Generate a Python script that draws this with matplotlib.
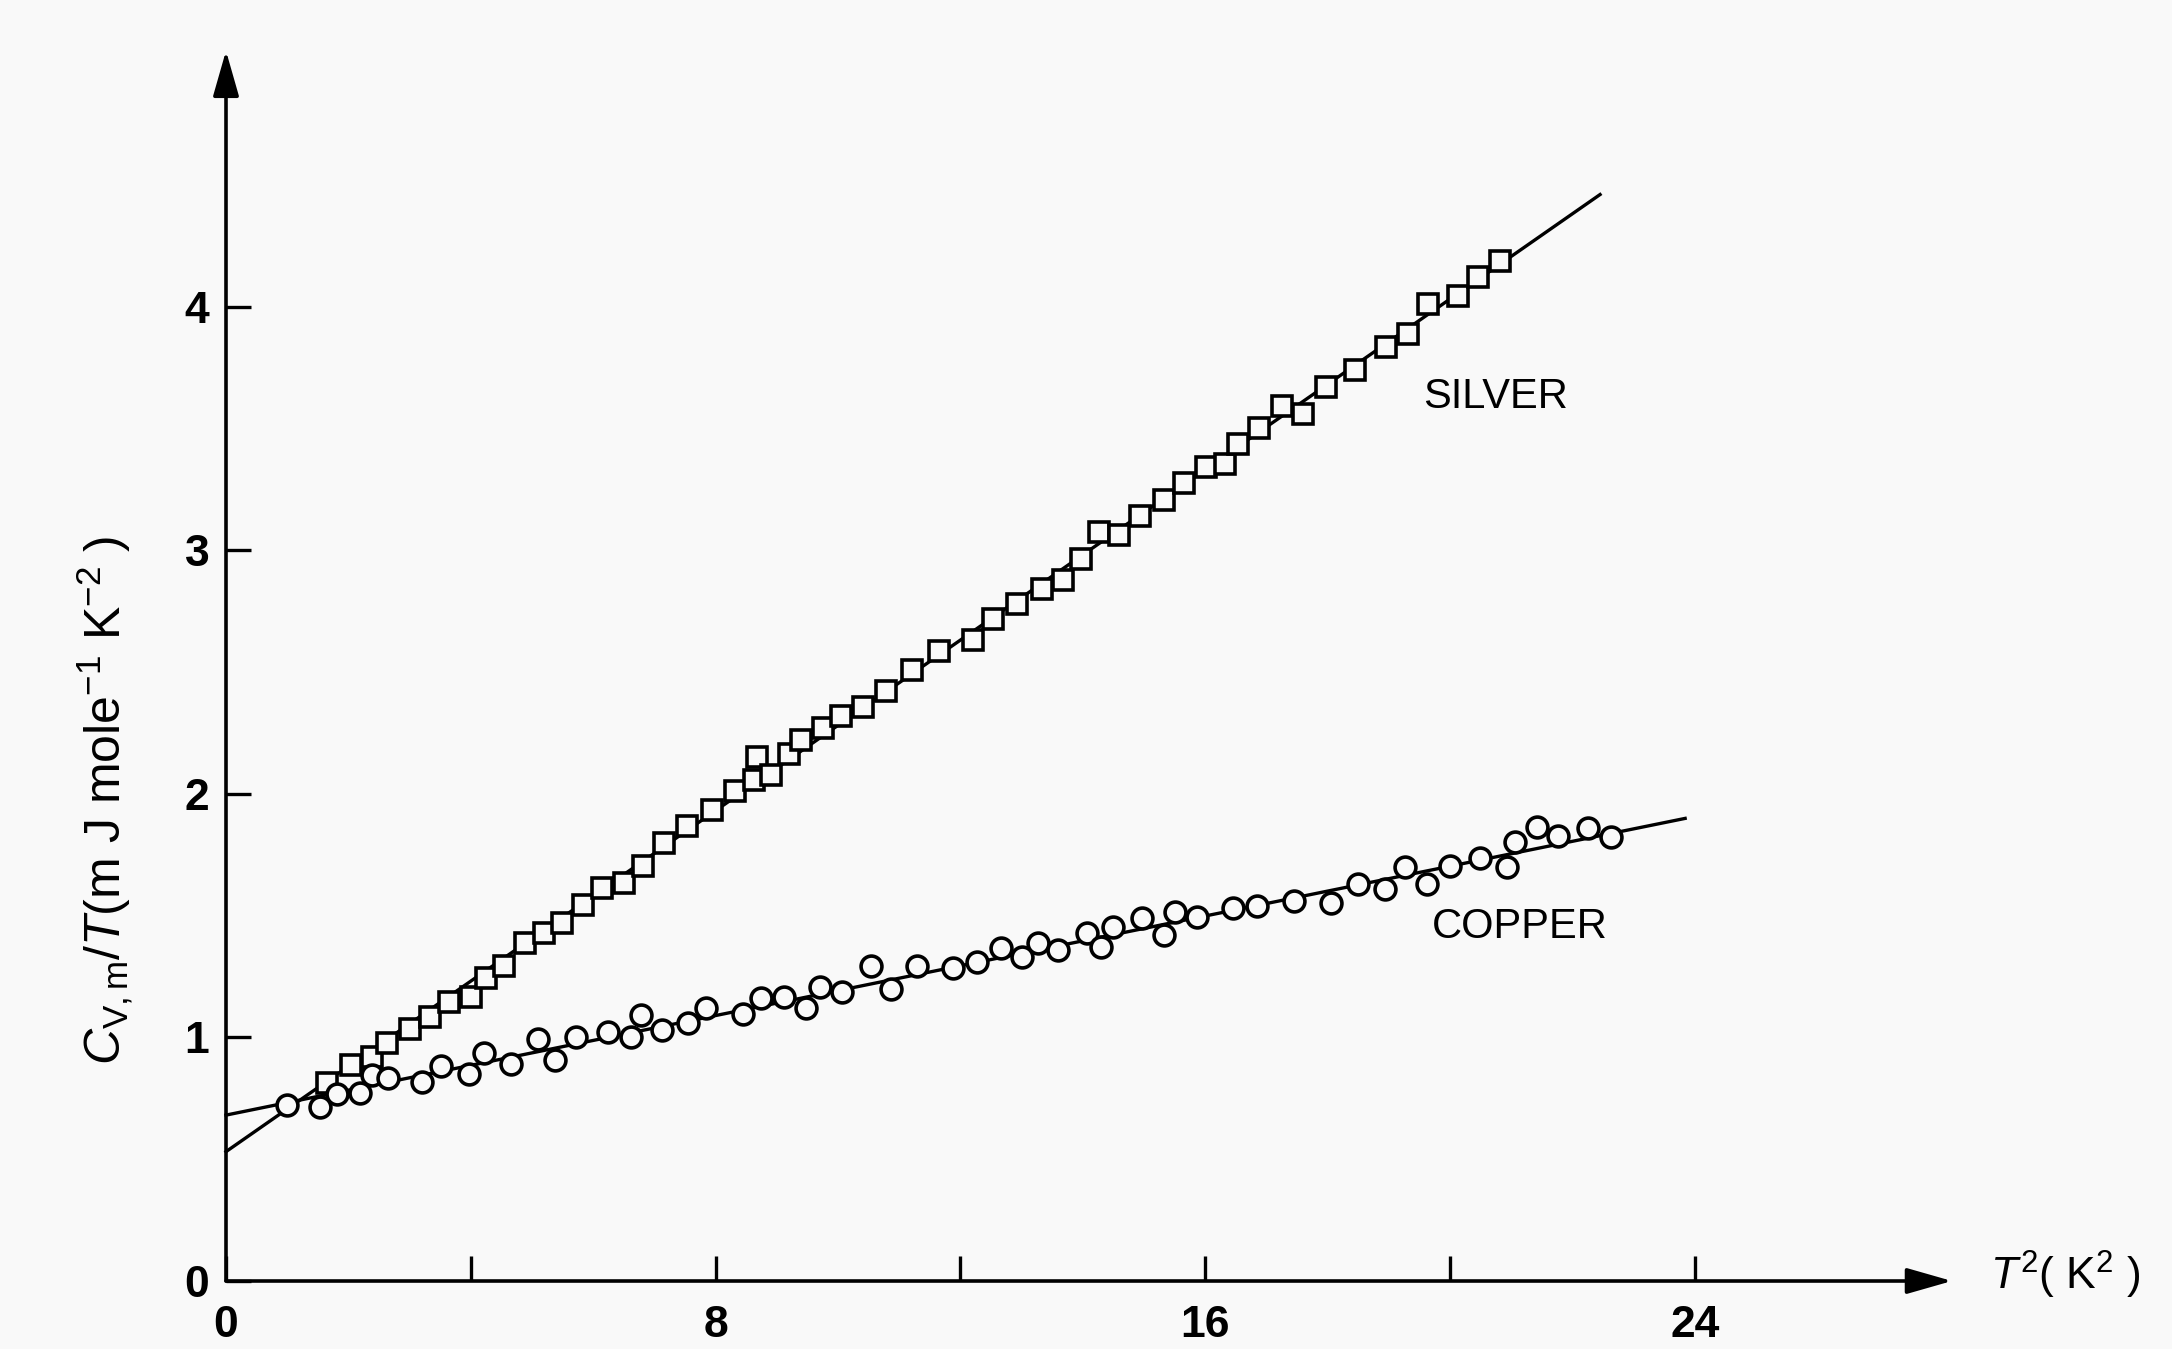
import matplotlib
matplotlib.use('Agg')
import matplotlib.pyplot as plt

# ---------------- data ----------------
silver_T2 = [1.65, 2.05, 2.38, 2.63, 3.00, 3.33, 3.64, 4.00, 4.24, 4.55,
             4.88, 5.19, 5.49, 5.83, 6.15, 6.50, 6.81, 7.16, 7.53, 7.94,
             8.31, 8.62, 8.67, 8.90, 9.20, 9.40, 9.75, 10.04, 10.40, 10.79,
             11.20, 11.65, 12.20, 12.53, 12.92, 13.33, 13.68, 13.97, 14.26, 14.59,
             14.93, 15.32, 15.66, 16.01, 16.32, 16.54, 16.87, 17.25, 17.59, 17.98,
             18.45, 18.96, 19.31, 19.64, 20.13, 20.46, 20.82]
silver_CT = [0.814, 0.885, 0.920, 0.976, 1.033, 1.082, 1.146, 1.167, 1.245, 1.294,
             1.386, 1.429, 1.471, 1.542, 1.612, 1.634, 1.704, 1.796, 1.867, 1.934,
             2.013, 2.055, 2.150, 2.079, 2.164, 2.221, 2.270, 2.319, 2.355, 2.422,
             2.507, 2.588, 2.630, 2.716, 2.779, 2.840, 2.878, 2.963, 3.076, 3.062,
             3.140, 3.204, 3.274, 3.341, 3.355, 3.434, 3.500, 3.592, 3.561, 3.670,
             3.741, 3.833, 3.889, 4.009, 4.044, 4.122, 4.186]

copper_T2 = [1.00, 1.53, 1.82, 2.19, 2.38, 2.65, 3.21, 3.51, 3.97, 4.21,
             4.65, 5.10, 5.38, 5.72, 6.24, 6.62, 6.78, 7.13, 7.55, 7.84,
             8.45, 8.74, 9.12, 9.48, 9.70, 10.07, 10.54, 10.87, 11.29, 11.87,
             12.27, 12.67, 13.00, 13.27, 13.60, 14.06, 14.29, 14.49, 14.97, 15.32,
             15.50, 15.86, 16.46, 16.85, 17.45, 18.05, 18.49, 18.94, 19.26, 19.62,
             19.99, 20.49, 20.93, 21.06, 21.42, 21.77, 22.25, 22.63]
copper_CT = [0.722, 0.716, 0.768, 0.773, 0.846, 0.835, 0.818, 0.883, 0.848, 0.935,
             0.891, 0.992, 0.907, 1.000, 1.024, 1.003, 1.092, 1.030, 1.058, 1.119,
             1.096, 1.160, 1.167, 1.119, 1.208, 1.188, 1.293, 1.197, 1.294, 1.284,
             1.311, 1.366, 1.331, 1.389, 1.359, 1.430, 1.372, 1.452, 1.489, 1.420,
             1.516, 1.493, 1.530, 1.539, 1.561, 1.553, 1.630, 1.608, 1.698, 1.630,
             1.704, 1.735, 1.698, 1.803, 1.865, 1.827, 1.858, 1.821]

silver_fit_x = [0.0, 22.45]
silver_fit_y = [0.531, 4.46]
copper_fit_x = [0.0, 23.84]
copper_fit_y = [0.681, 1.899]

x_ticks = [0, 4, 8, 12, 16, 20, 24]
x_ticklabels = ['0', '', '8', '', '16', '', '24']
y_ticks = [0, 1, 2, 3, 4]
y_ticklabels = ['0', '1', '2', '3', '4']

series_labels = ['SILVER', 'COPPER']
x_label = r'$T^{2}$( K$^{2}$ )'
y_label = r'$C_{\mathrm{V,m}}/T$(m J mole$^{-1}$ K$^{-2}$ )'

# ---------------- style ----------------
plt.rcParams['font.family'] = ['Liberation Sans', 'DejaVu Sans']
plt.rcParams['mathtext.fontset'] = 'custom'
plt.rcParams['mathtext.rm'] = 'Liberation Sans'
plt.rcParams['mathtext.it'] = 'Liberation Sans:italic'
plt.rcParams['mathtext.bf'] = 'Liberation Sans:bold'

W, H = 2172, 1349
bg = '#f9f9f9'
fig = plt.figure(figsize=(W / 100, H / 100), dpi=100, facecolor=bg)
ax = fig.add_axes([226 / W, (H - 1281) / H, 1726 / W, 1230.2 / H])
ax.set_facecolor('none')
ax.set_xlim(0, 28.2)
ax.set_ylim(0, 5.05)
for s in ax.spines.values():
    s.set_visible(False)

# fit lines
ax.plot(silver_fit_x, silver_fit_y, color='k', lw=2.4, zorder=2, clip_on=False)
ax.plot(copper_fit_x, copper_fit_y, color='k', lw=2.4, zorder=2, clip_on=False)

# data
ax.plot(silver_T2, silver_CT, ls='none', marker='s', ms=15, mfc=bg, mec='k',
        mew=2.6, zorder=3)
ax.plot(copper_T2, copper_CT, ls='none', marker='o', ms=15, mfc=bg, mec='k',
        mew=2.6, zorder=3)

# axes with arrow heads
arrow_kw = dict(arrowstyle='-|>,head_length=28,head_width=8', mutation_scale=1,
                lw=2.6, color='k', shrinkA=0, shrinkB=0)
ax.annotate('', xy=(1, 0), xytext=(0, 0), xycoords='axes fraction',
            arrowprops=arrow_kw, annotation_clip=False)
ax.annotate('', xy=(0, 1), xytext=(0, 0), xycoords='axes fraction',
            arrowprops=arrow_kw, annotation_clip=False)

# ticks
ax.set_xticks(x_ticks)
ax.set_xticklabels(x_ticklabels)
ax.set_yticks(y_ticks)
ax.set_yticklabels(y_ticklabels)
ax.tick_params(axis='both', direction='in', length=18, width=2.4, color='k',
               labelsize=32)
ax.tick_params(axis='x', pad=17)
ax.tick_params(axis='y', pad=12)
for lbl in ax.get_xticklabels() + ax.get_yticklabels():
    lbl.set_fontweight('bold')

# series labels
ax.text(19.56, 3.63, series_labels[0], fontsize=30, ha='left', va='center')
ax.text(19.71, 1.453, series_labels[1], fontsize=30, ha='left', va='center')

# axis labels
fig.text(1990 / W, 1 - 1290 / H, x_label, fontsize=32, ha='left', va='baseline')
fig.text(105 / W, 1 - 800 / H, y_label, fontsize=36, rotation=90,
         ha='center', va='center')

fig.savefig('out.png', dpi=100, facecolor=bg)
